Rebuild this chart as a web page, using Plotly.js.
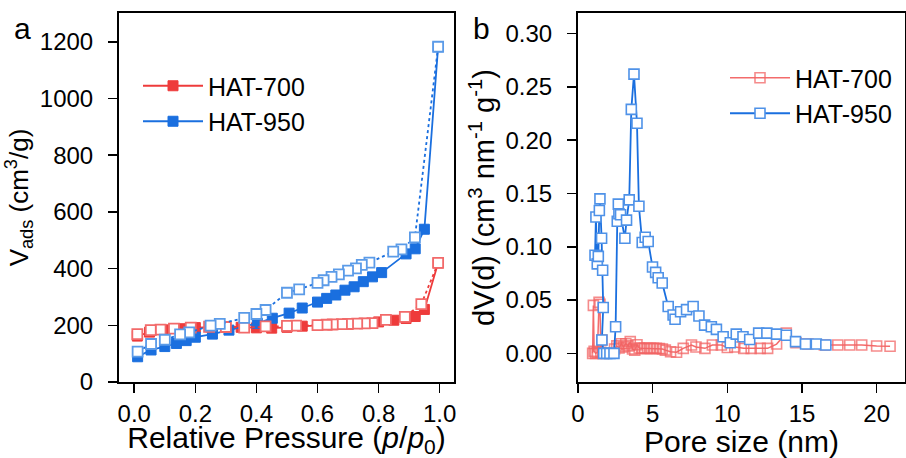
<!DOCTYPE html>
<html>
<head>
<meta charset="utf-8">
<script src="https://cdn.plot.ly/plotly-3.0.1.min.js"></script>
<style>html,body{margin:0;padding:0;background:#fff;}#chart{width:906px;height:458px;}</style>
</head>
<body>
<div id="chart"></div>
<script>
// ---- Panel a: N2 isotherms ----
const p700Ads = [0.01, 0.05, 0.10, 0.15, 0.20, 0.25, 0.30, 0.35, 0.40, 0.45, 0.50, 0.55, 0.60, 0.65, 0.70, 0.75, 0.80, 0.85, 0.89, 0.92, 0.95, 0.995];
const v700Ads = [162, 176, 184, 188, 192, 194, 195, 193, 191, 190, 193, 197, 200, 202, 204, 207, 212, 218, 224, 231, 256, 420];
const p700Des = [0.995, 0.94, 0.886, 0.824, 0.78, 0.755, 0.73, 0.70, 0.68, 0.65, 0.63, 0.60, 0.53, 0.50, 0.43, 0.36, 0.30, 0.245, 0.185, 0.13, 0.086, 0.054, 0.01];
const v700Des = [420, 275, 230, 219, 208, 207, 206, 205, 204, 203, 202, 201, 199, 198, 196, 192, 194, 195, 192, 188, 185, 183, 169];
const p950Ads = [0.011, 0.055, 0.10, 0.138, 0.17, 0.20, 0.256, 0.31, 0.403, 0.452, 0.507, 0.55, 0.60, 0.63, 0.66, 0.69, 0.72, 0.75, 0.78, 0.81, 0.89, 0.92, 0.95, 0.995];
const v950Ads = [89, 113, 125, 136, 146, 158, 169, 183, 207, 225, 243, 261, 282, 295, 307, 324, 336, 354, 371, 386, 452, 470, 539, 1183];
const p950Des = [0.995, 0.919, 0.875, 0.848, 0.77, 0.745, 0.726, 0.70, 0.67, 0.646, 0.62, 0.60, 0.54, 0.50, 0.43, 0.40, 0.36, 0.28, 0.25, 0.18, 0.15, 0.10, 0.055, 0.011];
const v950Des = [1183, 510, 468, 460, 421, 413, 401, 393, 380, 371, 359, 350, 327, 315, 254, 240, 226, 205, 199, 175, 168, 149, 134, 107];

// ---- Panel b: pore size distribution ----
const d700 = [0.98, 1.03, 1.08, 1.18, 1.30, 1.41, 1.47, 1.53, 1.60, 1.68, 2.45, 2.60, 2.75, 2.90, 3.05, 3.20, 3.35, 3.50, 3.65, 3.80, 3.95, 4.10, 4.26, 4.45, 4.65, 4.85, 5.05, 5.25, 5.45, 5.65, 5.85, 6.20, 6.60, 7.05, 7.60, 7.90, 8.50, 9.00, 9.60, 10.0, 10.5, 11.1, 11.6, 12.2, 12.7, 13.3, 13.95, 14.6, 15.4, 16.5, 17.4, 18.2, 19.0, 20.0, 20.9];
const dv700 = [0.000, 0.045, 0.002, 0.000, 0.001, 0.048, 0.046, 0.001, 0.0125, 0.000, 0.004, 0.007, 0.005, 0.009, 0.006, 0.009, 0.007, 0.011, 0.004, 0.003, 0.008, 0.005, 0.0047, 0.0047, 0.0047, 0.0047, 0.0047, 0.0047, 0.0045, 0.004, 0.003, 0.0015, 0.001, 0.0047, 0.0078, 0.006, 0.0047, 0.0078, 0.0078, 0.0055, 0.006, 0.0047, 0.0047, 0.0047, 0.0047, 0.0087, 0.019, 0.010, 0.0087, 0.0078, 0.0078, 0.0078, 0.0078, 0.0069, 0.0066];
const d950 = [1.14, 1.20, 1.29, 1.36, 1.43, 1.47, 1.58, 1.65, 1.69, 1.60, 1.72, 1.92, 2.14, 2.41, 2.52, 2.63, 2.70, 2.74, 2.85, 3.14, 3.25, 3.43, 3.57, 3.75, 3.95, 4.08, 4.30, 4.50, 4.70, 4.99, 5.20, 5.37, 5.64, 6.04, 6.37, 6.50, 6.87, 7.27, 7.71, 8.10, 8.48, 8.93, 9.27, 9.72, 10.2, 10.6, 11.05, 11.5, 12.1, 12.65, 13.3, 13.95, 14.57, 15.24, 15.96, 16.6];
const dv950 = [0.092, 0.128, 0.084, 0.091, 0.134, 0.145, 0.108, 0.078, 0.043, 0.0125, 0.000, 0.000, 0.000, 0.000, 0.025, 0.124, 0.140, 0.131, 0.130, 0.108, 0.125, 0.144, 0.229, 0.262, 0.216, 0.138, 0.104, 0.109, 0.105, 0.081, 0.076, 0.071, 0.066, 0.044, 0.036, 0.032, 0.039, 0.041, 0.044, 0.035, 0.0265, 0.025, 0.0225, 0.0156, 0.010, 0.018, 0.0156, 0.013, 0.019, 0.019, 0.018, 0.017, 0.011, 0.0087, 0.0087, 0.0078];

const names = ['HAT-700', 'HAT-950'];
const xTicksA = [0, 0.2, 0.4, 0.6, 0.8, 1.0];
const yTicksA = [0, 200, 400, 600, 800, 1000, 1200];
const xTicksB = [0, 5, 10, 15, 20];
const yTicksB = [0, 0.05, 0.10, 0.15, 0.20, 0.25, 0.30];

const RED = '#ee3b3b', BLUE = '#1a6fdf';
const FONT = 'Liberation Sans, Arial, Helvetica, sans-serif';

const traces = [
  {x: p700Ads, y: v700Ads, name: names[0], mode: 'lines+markers', xaxis: 'x', yaxis: 'y', legend: 'legend',
   line: {color: RED, width: 1.8}, marker: {symbol: 'square', size: 10, color: RED, line: {color: RED, width: 1}}},
  {x: p950Ads, y: v950Ads, name: names[1], mode: 'lines+markers', xaxis: 'x', yaxis: 'y', legend: 'legend',
   line: {color: BLUE, width: 1.8}, marker: {symbol: 'square', size: 10, color: BLUE, line: {color: BLUE, width: 1}}},
  {x: p700Des, y: v700Des, name: names[0], mode: 'lines+markers', xaxis: 'x', yaxis: 'y', showlegend: false,
   line: {color: RED, width: 1.8, dash: 'dot'}, marker: {symbol: 'square', size: 10, color: '#ffffff', line: {color: '#f26a6a', width: 1.8}}},
  {x: p950Des, y: v950Des, name: names[1], mode: 'lines+markers', xaxis: 'x', yaxis: 'y', showlegend: false,
   line: {color: BLUE, width: 1.8, dash: 'dot'}, marker: {symbol: 'square', size: 10, color: '#ffffff', line: {color: '#5b9be8', width: 1.8}}},
  {x: d700, y: dv700, name: names[0], mode: 'lines+markers', xaxis: 'x2', yaxis: 'y2', legend: 'legend2',
   line: {color: 'rgba(240,70,70,0.8)', width: 1.5}, marker: {symbol: 'square', size: 10, color: 'rgba(255,255,255,0)', line: {color: 'rgba(242,100,100,0.75)', width: 1.6}}},
  {x: d950, y: dv950, name: names[1], mode: 'lines+markers', xaxis: 'x2', yaxis: 'y2', legend: 'legend2',
   line: {color: BLUE, width: 1.8}, marker: {symbol: 'square', size: 10, color: '#ffffff', line: {color: '#4f92e8', width: 1.6}}}
];

const axCommon = {
  showline: true, linecolor: '#000', linewidth: 2, mirror: true,
  ticks: 'outside', ticklen: 9, tickwidth: 1.6, tickcolor: '#000',
  showgrid: false, zeroline: false,
  tickfont: {family: FONT, size: 24, color: '#000'}
};
const XTITLE_FONT = {family: FONT, size: 30, color: '#000'};

const layout = {
  width: 906, height: 458, autosize: false,
  margin: {l: 0, r: 0, t: 0, b: 0},
  paper_bgcolor: '#fff', plot_bgcolor: '#fff',
  font: {family: FONT, color: '#000'},
  xaxis: Object.assign({}, axCommon, {domain: [119/906, 454/906], range: [-0.05, 1.047], tickvals: xTicksA, tickformat: '.1f',
    anchor: 'y', title: {text: 'Relative Pressure (<i>p</i>/<i>p</i><sub>0</sub>)', font: XTITLE_FONT, standoff: 6}}),
  yaxis: Object.assign({}, axCommon, {domain: [76/458, 445/458], range: [0, 1302], tickvals: yTicksA, ticklabelstandoff: 10,
    anchor: 'x', title: {text: 'V<sub>ads</sub> (cm<sup>3</sup>/g)', font: {family: FONT, size: 26, color: '#000'}, standoff: 4}}),
  xaxis2: Object.assign({}, axCommon, {domain: [578/906, 905/906], range: [0, 21.9], tickvals: xTicksB,
    anchor: 'y2', title: {text: 'Pore size (nm)', font: XTITLE_FONT, standoff: 6}}),
  yaxis2: Object.assign({}, axCommon, {domain: [76/458, 445/458], range: [-0.0269, 0.3194], tickvals: yTicksB, tickformat: '.2f', ticklabelstandoff: 10,
    anchor: 'x2', title: {text: 'dV(d) (cm<sup>3</sup> nm<sup>-1</sup> g<sup>-1</sup>)', font: {family: FONT, size: 29, color: '#000'}, standoff: 2}}),
  legend: {x: 138/906, y: 1 - 63/458, xanchor: 'left', yanchor: 'top', bgcolor: 'rgba(0,0,0,0)',
    font: {family: FONT, size: 25, color: '#000'}, tracegroupgap: 0, itemwidth: 60},
  legend2: {x: 725/906, y: 1 - 55/458, xanchor: 'left', yanchor: 'top', bgcolor: 'rgba(0,0,0,0)',
    font: {family: FONT, size: 25, color: '#000'}, tracegroupgap: 0, itemwidth: 60},
  annotations: [
    {text: 'a', xref: 'paper', yref: 'paper', x: 12/906, y: 1 - 47/458, xanchor: 'left', yanchor: 'bottom', showarrow: false, font: {family: FONT, size: 30, color: '#000'}},
    {text: 'b', xref: 'paper', yref: 'paper', x: 471/906, y: 1 - 47/458, xanchor: 'left', yanchor: 'bottom', showarrow: false, font: {family: FONT, size: 30, color: '#000'}}
  ]
};

Plotly.newPlot('chart', traces, layout, {displayModeBar: false, staticPlot: true});
</script>
</body>
</html>
